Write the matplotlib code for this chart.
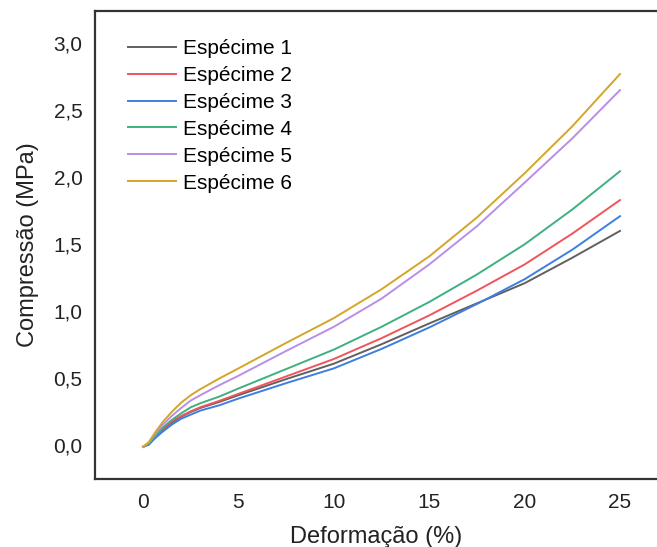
import matplotlib
matplotlib.use("Agg")
import matplotlib.pyplot as plt

plt.rcParams["font.family"] = ["Liberation Sans", "DejaVu Sans"]

# Deformation (%) sample points
strain = [0, 0.3, 0.6, 1, 1.5, 2, 2.5, 3, 4, 5, 7.5, 10, 12.5, 15, 17.5, 20, 22.5, 25]

# Compression (MPa) per specimen
esp1 = [-0.01, 0.01, 0.06, 0.115, 0.17, 0.215, 0.25, 0.28, 0.325, 0.375, 0.495, 0.61, 0.755, 0.91, 1.06, 1.21, 1.40, 1.60]
esp2 = [-0.01, 0.01, 0.06, 0.12, 0.18, 0.22, 0.255, 0.285, 0.333, 0.385, 0.515, 0.645, 0.80, 0.97, 1.155, 1.35, 1.58, 1.83]
esp3 = [-0.01, 0.005, 0.05, 0.10, 0.155, 0.20, 0.23, 0.26, 0.30, 0.35, 0.465, 0.575, 0.72, 0.88, 1.055, 1.24, 1.46, 1.71]
esp4 = [-0.01, 0.015, 0.065, 0.13, 0.19, 0.24, 0.285, 0.315, 0.365, 0.425, 0.57, 0.715, 0.885, 1.07, 1.275, 1.50, 1.76, 2.045]
esp5 = [-0.01, 0.02, 0.08, 0.15, 0.22, 0.28, 0.335, 0.375, 0.45, 0.52, 0.705, 0.885, 1.095, 1.35, 1.635, 1.96, 2.29, 2.65]
esp6 = [-0.01, 0.025, 0.09, 0.17, 0.25, 0.32, 0.375, 0.42, 0.50, 0.575, 0.765, 0.95, 1.165, 1.41, 1.70, 2.03, 2.38, 2.77]

labels = ["Espécime 1", "Espécime 2", "Espécime 3", "Espécime 4", "Espécime 5", "Espécime 6"]
colors = ["#606060", "#f0545c", "#3d7fe0", "#3fb07e", "#b98ee8", "#d4a52a"]

fig = plt.figure(figsize=(6.57, 5.47), dpi=100)
ax = fig.add_axes([0.1446, 0.1243, 0.8554, 0.8556])

for y, lab, c in zip([esp1, esp2, esp3, esp4, esp5, esp6], labels, colors):
    ax.plot(strain, y, color=c, linewidth=1.4, label=lab)

ax.set_xlim(-2.52, 26.94)
ax.set_ylim(-0.25, 3.24)
ax.set_xticks([0, 5, 10, 15, 20, 25])
ax.set_yticks([0, 0.5, 1.0, 1.5, 2.0, 2.5, 3.0])
ax.set_yticklabels(["0,0", "0,5", "1,0", "1,5", "2,0", "2,5", "3,0"])
ax.tick_params(length=0, labelsize=15, colors="#222222")
ax.tick_params(axis="x", pad=10)
ax.tick_params(axis="y", pad=9)

for side in ["left", "top", "bottom"]:
    ax.spines[side].set_linewidth(1.6)
    ax.spines[side].set_color("#333333")
ax.spines["right"].set_visible(False)

ax.set_xlabel("Deformação (%)", fontsize=17, color="#222222", labelpad=10)
ax.set_ylabel("Compressão (MPa)", fontsize=17, color="#222222", labelpad=10)

ax.legend(loc="upper left", bbox_to_anchor=(0.044, 0.958), frameon=False,
          fontsize=15, handlelength=2.3, handletextpad=0.35, labelspacing=0.38,
          borderaxespad=0)

plt.savefig("out.png", dpi=100)
